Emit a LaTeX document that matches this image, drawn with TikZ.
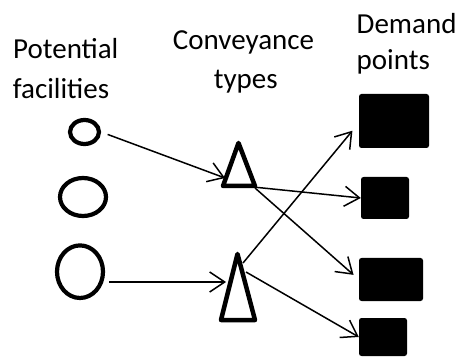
\documentclass[tikz,border=0pt]{standalone}
\usepackage{fontspec}
\setmainfont{Carlito}
\usetikzlibrary{arrows.meta,shapes.geometric}
\begin{document}
\begin{tikzpicture}[x=1pt,y=-1pt,
  site/.style={ellipse,draw,line width=4.2pt,inner sep=0pt},
  conv/.style={draw,line width=4.5pt,line join=round},
  dem/.style={fill=black,rounded corners=2.5pt,inner sep=0pt,draw=none},
  link/.style={line width=1.5pt,-{Straight Barb[length=15pt,width=20pt,line width=1.5pt]}},
  lab/.style={font=\fontsize{29}{38}\selectfont,inner sep=0pt}]
\useasboundingbox (0,0) rectangle (458,358);

% column headings
\node[lab,anchor=base] (pf1) at (65.8,58.3) {Potential};
\node[lab,anchor=base] (pf2) at (61,98.3) {facilities};
\node[lab,anchor=base] (ct1) at (243.5,50) {Conveyance};
\node[lab,anchor=base] (ct2) at (245.8,88.3) {types};
\node[lab,anchor=base west] (dp1) at (356.5,33.3) {Demand};
\node[lab,anchor=base west] (dp2) at (356.5,70) {points};

% potential facilities
\node[site,minimum width=29pt,minimum height=24pt] (c1) at (84.5,132) {};
\node[site,minimum width=46pt,minimum height=38pt] (c2) at (83,197) {};
\node[site,minimum width=46pt,minimum height=52.6pt] (c3) at (80,271.7) {};

% conveyance types
\coordinate (t1a) at (238.5,143);
\coordinate (t1l) at (223,186);
\coordinate (t1r) at (255,186);
\draw[conv] (t1a) -- (t1l) -- (t1r) -- cycle;
\coordinate (t2a) at (237.5,254);
\coordinate (t2l) at (221,320);
\coordinate (t2r) at (255,320);
\draw[conv] (t2a) -- (t2l) -- (t2r) -- cycle;

% demand points
\node[dem,minimum width=70pt,minimum height=54pt] (d1) at (394,121) {};
\node[dem,minimum width=48pt,minimum height=42pt] (d2) at (385,198) {};
\node[dem,minimum width=64pt,minimum height=43pt] (d3) at (391,279.5) {};
\node[dem,minimum width=48pt,minimum height=38pt] (d4) at (383,337) {};

% attachment points on the triangles
\coordinate (t1in) at (225,178);
\coordinate (t1o1) at (253,187);
\coordinate (t1o2) at (255,188);
\coordinate (t2in) at (226,282);
\coordinate (t2o1) at (243,263);
\coordinate (t2o2) at (246,272);

% flows
\draw[link,shorten <=7pt] (c1.east) -- (t1in);
\draw[link,shorten <=4pt] (c3.east |- t2in) -- (t2in);
\draw[link] (t1o1) -- (d2.west);
\draw[link,shorten >=7pt] (t1o2) -- (d3.west);
\draw[link,shorten >=10pt] (t2o1) -- ([yshift=-2pt]d1.west);
\draw[link] (t2o2) -- (d4.west);
\end{tikzpicture}
\end{document}
